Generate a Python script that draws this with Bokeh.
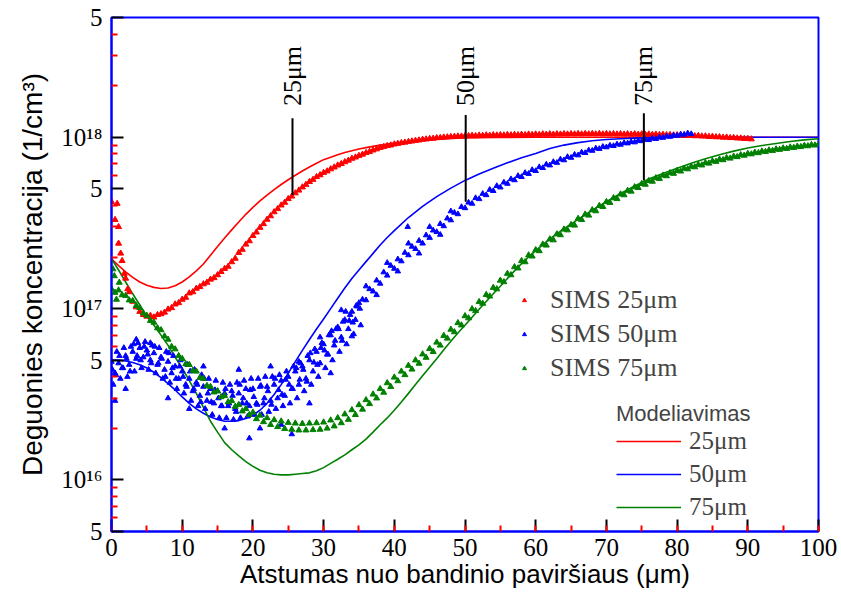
import numpy as np
from bokeh.plotting import figure
from bokeh.models import (Range1d, FixedTicker, SingleIntervalTicker,
                          Legend, LegendItem)
from bokeh.core.properties import value
from bokeh.embed import file_html
from bokeh.resources import INLINE

UNIT = 1e16  # all concentrations below are in units of 1e16 1/cm^3

# ---------------- SIMS data (sampled every 0.5 um) ----------------
sims_red = [
    42, 33, 24, 19, 15, 12.5, 11, 10.2, 9.6, 9.2,
    9.0, 9.1, 8.9, 9.2, 9.3, 9.5, 9.9, 10.1, 10.6, 10.8,
    11.3, 11.6, 12.3, 12.5, 13.1, 13.4, 13.9, 14.2, 14.8, 15.1,
    15.7, 16.4, 17.1, 17.6, 18.7, 19.6, 21.2, 22.1, 23.7, 24.8,
    26.6, 27.9, 29.7, 31.2, 33.1, 34.7, 36.6, 38.2, 40.1, 41.6,
    43.7, 45.2, 47.2, 49.0, 51.1, 52.9, 55.0, 56.6, 58.7, 60.2,
    62.1, 63.4, 65.2, 66.8, 68.6, 70.0, 71.7, 73.2, 75.1, 76.4,
    78.1, 79.4, 81.1, 82.4, 84.0, 85.3, 86.9, 87.9, 89.1, 89.8,
    91.1, 91.8, 92.7, 93.3, 94.2, 94.8, 95.6, 96.1, 97.0, 97.4,
    98.1, 98.4, 99.1, 99.3, 99.9, 100.2, 100.6, 100.9, 101.3, 101.2,
    101.7, 101.9, 102.3, 101.8, 102.6, 102.2, 102.9, 102.4, 103.1, 102.7,
    103.2, 102.8, 103.5, 103.0, 103.6, 103.1, 103.8, 103.3, 104.0, 103.5,
    104.1, 103.6, 104.3, 103.8, 104.4, 103.9, 104.5, 104.0, 104.6, 104.1,
    104.7, 104.2, 104.8, 104.2, 104.9, 104.3, 104.8, 104.3, 104.9, 104.2,
    104.8, 104.2, 104.7, 104.1, 104.6, 104.0, 104.5, 103.9, 104.4, 103.8,
    104.3, 103.7, 104.1, 103.5, 103.9, 103.3, 103.7, 103.1, 103.4, 102.8,
    103.1, 102.5, 102.8, 102.1, 102.4, 101.7, 102.0, 101.3, 101.5, 100.8,
    101.0, 100.3, 100.4, 99.8, 99.9, 99.2, 99.3, 98.7, 98.7, 98.1,
    98.1, 97.5,
]
sims_red_extra_x = [0.8, 1.0, 1.3, 1.8, 2.3]
sims_red_extra = [41, 30, 21, 16, 13]

sims_blue = [
    4.9, 4.2, 4.8, 4.5, 5.3, 4.7, 5.6, 5.1, 5.9, 5.2,
    5.7, 5.0, 5.5, 4.7, 5.2, 4.4, 4.9, 4.2, 4.6, 3.9,
    4.3, 3.6, 3.9, 3.3, 3.7, 3.1, 3.5, 2.9, 3.4, 2.8,
    3.3, 2.7, 3.2, 2.7, 3.3, 2.6, 3.2, 2.8, 3.4, 2.7,
    3.4, 2.8, 3.5, 2.8, 3.5, 2.9, 3.6, 3.0, 3.8, 3.1,
    4.0, 3.4, 4.3, 3.6, 4.6, 3.9, 5.0, 4.3, 5.6, 4.8,
    6.2, 5.4, 7.0, 6.1, 7.8, 6.8, 8.6, 7.6, 9.6, 8.6,
    10.8, 11.3, 11.2, 13.0, 12.6, 14.6, 14.0, 16.3, 15.6, 17.8,
    17.1, 19.4, 18.9, 21.2, 20.5, 23.0, 22.3, 24.9, 24.0, 26.8,
    25.9, 28.6, 28.0, 31.2, 30.3, 33.6, 32.8, 36.3, 35.6, 39.2,
    38.6, 41.6, 41.0, 44.2, 43.6, 46.8, 46.0, 49.4, 48.6, 52.0,
    51.0, 54.5, 53.6, 57.0, 56.2, 59.5, 58.7, 62.0, 61.2, 64.5,
    63.6, 67.0, 66.2, 69.4, 68.6, 71.8, 71.0, 74.3, 73.5, 76.8,
    76.0, 79.2, 78.5, 81.6, 81.0, 84.0, 83.5, 86.2, 85.6, 88.0,
    87.5, 89.5, 89.0, 91.0, 90.6, 92.6, 92.2, 94.0, 93.5, 95.4,
    95.0, 96.8, 96.4, 98.3, 97.9, 99.7, 99.4, 101.2, 100.8, 102.6,
    102.3, 104.0, 103.6, 105.5, 104.5,
]
# second and third passes of scattered SIMS 50um points (x = 0.25 + 0.5 i, 0.125 + 0.5 i)
sims_blue_b = [
    3.6, 5.6, 3.9, 5.9, 4.0, 6.0, 4.3, 6.3, 4.5, 6.4,
    4.4, 6.1, 4.2, 5.9, 3.9, 5.6, 3.7, 5.3, 3.4, 5.0,
    3.2, 4.7, 2.9, 4.4, 2.7, 4.1, 2.6, 3.9, 2.4, 3.8,
    2.3, 3.7, 2.3, 3.6, 2.25, 3.7, 2.3, 3.8, 2.35, 3.9,
    2.4, 3.9, 2.4, 4.0, 2.5, 4.0, 2.6, 4.1, 2.7, 4.3,
    2.8, 4.6, 3.0, 4.8, 3.3, 5.3, 3.6, 5.8, 4.0, 6.3,
    4.5, 7.0, 5.0, 7.6, 5.6, 8.4, 6.2, 9.2, 7.1, 10.3,
    8.0,
]
sims_blue_c = [
    4.4, 4.1, 5.3, 4.5, 5.1, 4.3, 6.2, 5.3, 5.0, 6.0,
    5.4, 4.8, 6.0, 4.8, 5.1, 4.0, 5.5, 4.5, 3.9, 4.6,
    4.0, 3.5, 4.3, 3.4, 3.6, 2.85, 3.9, 3.2, 2.85, 3.35,
    3.0, 2.7, 3.4, 2.8, 3.1, 2.5, 3.6, 3.0, 2.8, 3.35,
    3.05, 2.75, 3.55, 3.0, 3.3, 2.75, 3.9, 3.35, 3.15, 3.85,
    3.6, 3.4, 4.5, 3.85, 4.4, 3.75, 5.5, 4.85, 4.7, 5.9,
    5.7, 5.4, 7.4, 6.5, 7.6, 6.5, 9.6, 8.5, 8.3, 10.4,
    10.0,
]
sims_blue_out_x = [0.5, 2, 3.5, 5.5, 8, 11, 13, 16, 18, 19.5, 21, 22.5, 24, 25.5, 26.5,
                   28, 29.5, 31, 32.5, 34, 36, 37.5, 39, 40.5, 42, 43.5, 45, 46.5, 48, 41.9]
sims_blue_out = [2.9, 3.4, 6.6, 6.3, 3.0, 2.6, 4.6, 2.0, 4.4, 1.75, 2.0, 4.6, 2.1, 1.85, 4.9,
                 2.8, 6.8, 4.2, 9.8, 6.9, 13.5, 12.0, 18.5, 16.5, 24, 21, 30, 27, 37, 30]

sims_green = [
    13.0, 12.4, 12.8, 12.0, 11.9, 11.2, 11.1, 10.4, 10.1, 9.4,
    9.1, 8.5, 8.3, 7.7, 7.5, 6.9, 6.6, 6.0, 5.8, 5.3,
    5.1, 4.75, 4.7, 4.35, 4.3, 3.95, 3.9, 3.55, 3.5, 3.25,
    3.3, 3.05, 3.1, 2.85, 2.9, 2.68, 2.75, 2.52, 2.6, 2.4,
    2.48, 2.27, 2.38, 2.18, 2.3, 2.1, 2.24, 2.04, 2.2, 1.99,
    2.16, 1.97, 2.14, 1.95, 2.13, 1.95, 2.14, 1.96, 2.15, 1.97,
    2.17, 2.0, 2.23, 2.06, 2.3, 2.15, 2.42, 2.25, 2.56, 2.4,
    2.74, 2.58, 2.93, 2.78, 3.16, 3.0, 3.4, 3.24, 3.68, 3.5,
    3.97, 3.78, 4.3, 4.1, 4.65, 4.42, 5.0, 4.78, 5.42, 5.18,
    5.83, 5.6, 6.35, 6.1, 6.95, 6.7, 7.55, 7.3, 8.25, 8.0,
    9.05, 8.8, 9.95, 9.7, 10.95, 10.7, 12.05, 11.8, 13.25, 13.0,
    14.6, 14.3, 16.0, 15.7, 17.5, 17.2, 19.0, 18.7, 20.5, 20.2,
    22.0, 21.7, 23.7, 23.4, 25.4, 25.1, 27.2, 26.9, 29.0, 28.7,
    30.8, 30.6, 33.5, 33.0, 35.5, 35.0, 37.6, 37.1, 39.8, 39.3,
    42.0, 41.5, 44.2, 43.7, 46.5, 46.0, 48.8, 48.3, 51.2, 50.7,
    53.5, 53.0, 55.7, 55.2, 57.8, 57.3, 59.9, 59.4, 61.9, 61.4,
    63.8, 63.3, 65.7, 65.2, 67.5, 67.0, 69.2, 68.7, 70.9, 70.4,
    72.6, 72.1, 74.2, 73.7, 75.8, 75.3, 77.3, 76.8, 78.8, 78.3,
    80.2, 79.7, 81.5, 81.0, 82.8, 82.3, 84.0, 83.5, 85.2, 84.7,
    86.3, 85.8, 87.4, 86.9, 88.4, 87.9, 89.4, 88.9, 90.3, 89.8,
    91.2,
]
sims_green_extra_x = [0.2, 0.4, 0.7, 1.1]
sims_green_extra = [17, 15.5, 11.3, 14.2]

# ---------------- Model curves ----------------
model_red_x = list(range(0, 37)) + [38, 40, 42, 44, 46, 48, 50, 54, 60, 70, 80, 90, 100]
model_red = [19.5, 17.8, 16.4, 15.2, 14.3, 13.7, 13.3, 13.1, 13.2, 13.6,
             14.3, 15.3, 16.6, 18.2, 20.5, 23, 25.8, 28.8, 32, 35.5,
             39, 42.5, 46, 49.5, 53, 56.5, 60, 63.5, 67, 70.5,
             74, 76.5, 79, 81.5, 83.5, 85.5, 87,
             90, 92.5, 94.5, 96, 97.3, 98.3, 99, 99.7, 100, 100, 100, 100, 100]

model_blue_x = list(range(0, 41)) + list(range(42, 81, 2)) + [90, 100]
model_blue = [5.0, 5.0, 4.95, 4.85, 4.7, 4.5, 4.25, 3.95, 3.65, 3.35,
              3.05, 2.8, 2.6, 2.45, 2.33, 2.25, 2.2, 2.2, 2.22, 2.28,
              2.38, 2.55, 2.8, 3.15, 3.6, 4.2, 4.9, 5.7, 6.6, 7.6,
              8.7, 10, 11.5, 13.2, 15, 16.8, 18.8, 21, 23.5, 26,
              28.5,
              34, 39.5, 45, 50.5, 56, 61, 66, 71, 76, 80.5,
              86, 90, 93, 95.5, 97, 98, 98.8, 99.4, 99.8, 100,
              100, 100]

model_green_x = list(range(0, 61)) + list(range(62, 101, 2))
model_green = [19.5, 16.8, 14.3, 12.2, 10.5, 9.0, 8.0, 7.0, 6.1, 5.2,
               4.5, 3.8, 3.2, 2.65, 2.2, 1.9, 1.65, 1.5, 1.38, 1.28,
               1.2, 1.14, 1.1, 1.08, 1.07, 1.07, 1.08, 1.09, 1.1, 1.13,
               1.18, 1.25, 1.32, 1.4, 1.5, 1.6, 1.73, 1.9, 2.1, 2.3,
               2.55, 2.85, 3.2, 3.6, 4.05, 4.55, 5.1, 5.75, 6.45, 7.2,
               8.0, 8.9, 9.9, 11, 12.2, 13.5, 15, 16.6, 18.3, 20,
               21.8,
               25.5, 29.3, 33.2, 37.5, 42, 47, 52, 57, 61.5, 66,
               70.5, 75, 79, 83, 86.5, 89.5, 92, 94.5, 96.5, 98]

# ---------------- Annotations ----------------
annot_x = [25.6, 50.1, 75.3]
annot_top = [129, 135, 138]
annot_bottom = [46, 42, 56]
annot_text_y = [152, 152, 152]
annot_labels = ["25μm", "50μm", "75μm"]

y_major = [5e15, 1e16, 5e16, 1e17, 5e17, 1e18, 5e18]
y_labels = ["5", "10¹⁶", "5", "10¹⁷", "5", "10¹⁸", "5"]

# ---------------- helpers ----------------
def half_grid(n, start=0.0):
    return [start + 0.5 * i for i in range(n)]

def scale(vals):
    return [v * UNIT for v in vals]

red_x = half_grid(len(sims_red)) + sims_red_extra_x
red_y = scale(sims_red + sims_red_extra)
blue_x = (half_grid(len(sims_blue)) + half_grid(len(sims_blue_b), 0.25)
          + half_grid(len(sims_blue_c), 0.125) + sims_blue_out_x)
blue_y = scale(sims_blue + sims_blue_b + sims_blue_c + sims_blue_out)
green_x = half_grid(len(sims_green)) + sims_green_extra_x
green_y = scale(sims_green + sims_green_extra)

RED, BLUE, GREEN = "#ff0000", "#0000ff", "#008000"

p = figure(width=841, height=601, x_range=Range1d(0, 100), y_range=Range1d(5e15, 5e18),
           y_axis_type="log", output_backend="svg", toolbar_location=None,
           min_border_left=111, min_border_right=23, min_border_top=17, min_border_bottom=70)
p.xgrid.visible = False
p.ygrid.visible = False
p.outline_line_color = "blue"
p.outline_line_width = 2
p.background_fill_color = "white"
p.border_fill_color = "white"

# model lines
lr = p.line(model_red_x, scale(model_red), line_color=RED, line_width=1.6)
lb = p.line(model_blue_x, scale(model_blue), line_color=BLUE, line_width=1.6)
lg = p.line(model_green_x, scale(model_green), line_color=GREEN, line_width=1.6)

# SIMS points
sr = p.scatter(red_x, red_y, marker="triangle", size=6, color=RED)
sb = p.scatter(blue_x, blue_y, marker="triangle", size=5.5, color=BLUE)
sg = p.scatter(green_x, green_y, marker="triangle", size=6, color=GREEN)

# annotations
p.segment(x0=annot_x, y0=scale(annot_bottom), x1=annot_x, y1=scale(annot_top),
          line_color="black", line_width=2)
p.text(x=annot_x, y=scale(annot_text_y), text=annot_labels, angle=np.pi / 2,
       text_align="left", text_baseline="middle", text_font=value("Liberation Serif"),
       text_font_size="26px", text_color="black")

# axes
for ax in (p.xaxis[0], p.yaxis[0]):
    ax.axis_line_color = "blue"
    ax.axis_line_width = 2
    ax.major_tick_in = 12
    ax.major_tick_out = 0
    ax.minor_tick_in = 6
    ax.minor_tick_out = 0
    ax.major_tick_line_color = "black"
    ax.major_tick_line_width = 2
    ax.minor_tick_line_color = "red"
    ax.minor_tick_line_width = 2
    ax.major_label_text_font = "Liberation Serif"
    ax.major_label_text_font_size = "25px"
    ax.major_label_text_color = "black"
    ax.axis_label_text_font = "Liberation Sans"
    ax.axis_label_text_font_style = "normal"
    ax.axis_label_text_color = "black"

p.xaxis[0].ticker = SingleIntervalTicker(interval=10, num_minor_ticks=2)
p.xaxis[0].axis_label = "Atstumas nuo bandinio paviršiaus (μm)"
p.xaxis[0].axis_label_text_font_size = "26px"
p.xaxis[0].major_label_standoff = 7
p.xaxis[0].axis_label_standoff = 0

y_minor = [m * d for d in (1e15, 1e16, 1e17, 1e18) for m in range(2, 10)
           if 5e15 < m * d < 5e18 and m != 5]
p.yaxis[0].ticker = FixedTicker(ticks=y_major, minor_ticks=y_minor)
p.yaxis[0].major_label_overrides = {t: lab for t, lab in zip(y_major, y_labels)}
p.yaxis[0].axis_label = "Deguonies koncentracija (1/cm³)"
p.yaxis[0].axis_label_text_font_size = "28px"
p.yaxis[0].major_label_standoff = 9
p.yaxis[0].axis_label_standoff = 10

# legends
leg1 = Legend(items=[LegendItem(label="SIMS 25μm", renderers=[sr]),
                     LegendItem(label="SIMS 50μm", renderers=[sb]),
                     LegendItem(label="SIMS 75μm", renderers=[sg])],
              location=(408, 148), glyph_width=10, glyph_height=26, label_height=26,
              label_standoff=21, spacing=4, padding=0, margin=0,
              border_line_color=None, background_fill_alpha=0,
              label_text_font="Liberation Serif", label_text_font_size="26px")
leg2 = Legend(items=[LegendItem(label="25μm", renderers=[lr]),
                     LegendItem(label="50μm", renderers=[lb]),
                     LegendItem(label="75μm", renderers=[lg])],
              location=(505, 10), glyph_width=65, glyph_height=26, label_height=26,
              label_standoff=8, spacing=5, padding=0, margin=0,
              border_line_color=None, background_fill_alpha=0,
              label_text_font="Liberation Serif", label_text_font_size="25px",
              title="Modeliavimas", title_text_font="Liberation Sans",
              title_text_font_size="22px", title_text_font_style="normal", title_standoff=0)
p.add_layout(leg1)
p.add_layout(leg2)

open("out.html", "w").write(file_html(p, INLINE))
